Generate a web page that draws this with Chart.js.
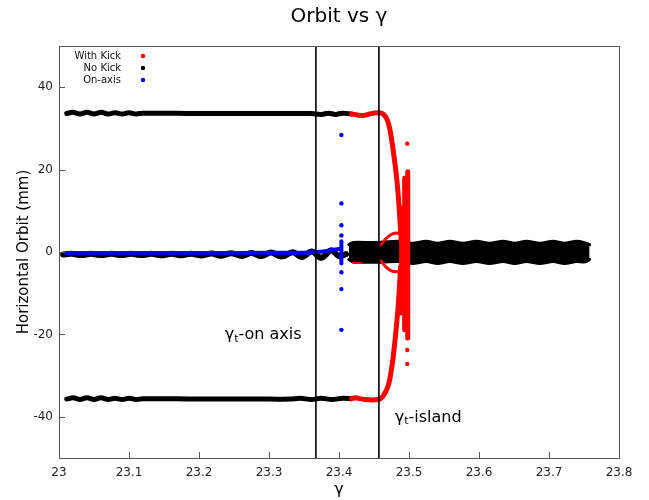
<!DOCTYPE html>
<html>
<head>
<meta charset="utf-8">
<script src="https://cdn.jsdelivr.net/npm/chart.js@4/dist/chart.umd.min.js"></script>
<style>
  html, body { margin: 0; padding: 0; background: #fff; }
  #wrap { width: 649px; height: 500px; }
</style>
</head>
<body>
<div id="wrap"><canvas id="chart" width="649" height="500"></canvas></div>
<script>
const gammaTicks = [23, 23.1, 23.2, 23.3, 23.4, 23.5, 23.6, 23.7, 23.8];
const orbitTicks = [-40, -20, 0, 20, 40];
const gammaT = [23.367, 23.457];
const legendNames = ['With Kick', 'No Kick', 'On-axis'];
const seriesColors = ['#ff0000', '#000000', '#0000ff'];

// No Kick
const noKickTop = [
  [23.011, 33.6], [23.02, 33.9], [23.03, 33.5], [23.04, 33.9], [23.05, 33.5], [23.06, 33.9],
  [23.07, 33.5], [23.08, 33.8], [23.09, 33.5], [23.10, 33.8], [23.11, 33.5], [23.12, 33.7],
  [23.20, 33.6], [23.30, 33.6], [23.36, 33.6], [23.375, 33.4], [23.385, 33.7], [23.395, 33.4],
  [23.405, 33.7], [23.418, 33.5],
];
const noKickBottom = [
  [23.011, -35.7], [23.02, -35.4], [23.03, -35.8], [23.04, -35.4], [23.05, -35.8], [23.06, -35.4],
  [23.07, -35.8], [23.08, -35.5], [23.09, -35.8], [23.10, -35.5], [23.11, -35.8], [23.12, -35.6],
  [23.20, -35.7], [23.30, -35.7], [23.33, -35.7], [23.345, -35.5], [23.36, -35.8], [23.375, -35.5],
  [23.39, -35.8], [23.405, -35.5], [23.418, -35.6],
];
const noKickCentre = [
  [23.006, -0.6], [23.018, -0.45], [23.032, -0.75], [23.046, -0.45], [23.060, -0.75], [23.075, -0.45],
  [23.089, -0.75], [23.103, -0.45], [23.118, -0.75], [23.132, -0.45], [23.146, -0.8], [23.161, -0.4],
  [23.175, -0.8], [23.189, -0.4], [23.204, -0.85], [23.218, -0.35], [23.232, -0.9], [23.246, -0.3],
  [23.261, -0.95], [23.275, -0.25], [23.289, -1.0], [23.303, -0.15], [23.318, -1.1], [23.334, -0.05],
  [23.347, -1.25], [23.361, 0.1], [23.375, -1.4], [23.389, 0.4], [23.400, -1.0], [23.41, -0.5],
];
const noKickBandTop = [
  [23.414, 1.8], [23.42, 2.3], [23.45, 2.3], [23.4867, 2.6], [23.505, 2.1], [23.5247, 2.6],
  [23.541, 2.1], [23.5581, 2.6], [23.577, 2.1], [23.5963, 2.6], [23.615, 2.1], [23.6344, 2.6],
  [23.651, 2.1], [23.6677, 2.6], [23.687, 2.1], [23.7058, 2.6], [23.722, 2.1], [23.7391, 2.6],
  [23.752, 2.2], [23.758, 1.8],
];
const noKickBandBottom = [
  [23.414, -1.8], [23.42, -2.4], [23.45, -2.5], [23.4867, -2.3], [23.505, -2.8], [23.5247, -2.3],
  [23.541, -2.8], [23.5581, -2.3], [23.577, -2.8], [23.5963, -2.3], [23.615, -2.8], [23.6344, -2.3],
  [23.651, -2.8], [23.6677, -2.3], [23.687, -2.8], [23.7058, -2.3], [23.722, -2.8], [23.7391, -2.3],
  [23.752, -2.4], [23.758, -1.8],
];

// With Kick
const kickUpper = [
  [23.418, 33.5], [23.4224, 33.4], [23.434, 33.1], [23.4486, 33.7], [23.4606, 33.7], [23.4677, 32.5],
  [23.4724, 30.0], [23.4763, 26.0], [23.4796, 21.9], [23.4829, 17.1], [23.4857, 11.4], [23.4877, 5.8],
  [23.489, 2.5],
];
const kickLower = [
  [23.418, -35.6], [23.4224, -35.4], [23.4367, -35.8], [23.4557, -35.8], [23.4629, -35.0], [23.47, -32.6],
  [23.4749, -28.6], [23.4786, -23.7], [23.482, -18.1], [23.4849, -12.4], [23.4867, -7.5], [23.4881, -3.5],
];
const kickLoopUpper = [[23.460, 1.8], [23.467, 3.2], [23.474, 4.2], [23.482, 4.6], [23.49, 4.3]];
const kickLoopLower = [[23.460, -2.2], [23.467, -3.6], [23.474, -4.5], [23.482, -4.8], [23.49, -4.6]];
const kickColumnA = [[23.4895, 10.6], [23.4895, -14.8]];
const kickColumnB = [[23.4938, 17.9], [23.4938, -18.9]];
const kickColumnC = [[23.4982, 19.5], [23.4982, -20.9]];
const kickSpill = [[23.42, -2.6], [23.433, -2.7]];
const kickStray = [[23.4975, 26.3], [23.4975, -23.8], [23.4975, -27.2]];

// On-axis
const onAxisLine = [
  [23.01, -0.25], [23.10, -0.25], [23.20, -0.25], [23.30, -0.2], [23.36, -0.1], [23.38, 0.2], [23.403, 0.8],
];
const onAxisColumn = [[23.4034, 2.6], [23.4034, -2.8]];
const onAxisStray = [
  [23.4034, 28.4], [23.4034, 11.8], [23.4034, 6.5], [23.4034, 4.0], [23.4034, -4.9],
  [23.4034, -9.0], [23.4034, -18.9],
];

const xy = arr => arr.map(([x, y]) => ({ x, y }));

function curve(data, color, width, order, extra) {
  return Object.assign({
    data: xy(data),
    showLine: true,
    borderColor: color,
    backgroundColor: color,
    borderWidth: width,
    pointRadius: 0,
    tension: 0.35,
    borderCapStyle: 'round',
    borderJoinStyle: 'round',
    fill: false,
    order,
  }, extra);
}

function dots(data, color, r, order) {
  return {
    data: xy(data),
    showLine: false,
    backgroundColor: color,
    borderColor: color,
    borderWidth: 0,
    pointRadius: r,
    order,
  };
}

const [red, black, blue] = seriesColors;

const datasets = [
  curve(noKickTop, black, 5, 3),
  curve(noKickBottom, black, 5, 3),
  curve(noKickCentre, black, 6, 3),
  curve(noKickBandTop, black, 3, 3, { fill: '+1', tension: 0.3 }),
  curve(noKickBandBottom, black, 3, 3, { tension: 0.3 }),
  curve(kickUpper, red, 5, 2),
  curve(kickLower, red, 5, 2),
  curve(kickLoopUpper, red, 3, 2),
  curve(kickLoopLower, red, 3, 2),
  curve(kickColumnA, red, 5, 2),
  curve(kickColumnB, red, 5, 2),
  curve(kickColumnC, red, 5, 2),
  curve(kickSpill, red, 2, 2),
  dots(kickStray, red, 2.2, 2),
  curve(onAxisLine, blue, 4, 1),
  curve(onAxisColumn, blue, 4, 1),
  dots(onAxisStray, blue, 2.2, 1),
];
gammaT.forEach(g => datasets.push(curve([[g, -50], [g, 50]], black, 1.6, 0, { tension: 0, borderCapStyle: 'butt' })));

const FONT = '"DejaVu Sans", sans-serif';

function gammaLabel(ctx, x, y, rest) {
  ctx.textAlign = 'left';
  ctx.textBaseline = 'middle';
  ctx.font = '16px ' + FONT;
  ctx.fillText('γ', x, y);
  let w = ctx.measureText('γ').width;
  ctx.font = '11px ' + FONT;
  ctx.fillText('t', x + w, y + 4);
  w += ctx.measureText('t').width;
  ctx.font = '16px ' + FONT;
  ctx.fillText(rest, x + w, y);
}

const decorations = {
  id: 'decorations',
  afterDraw(chart) {
    const { ctx, chartArea: a, scales: { x, y } } = chart;
    ctx.save();
    // frame and inward ticks, gnuplot style
    ctx.strokeStyle = '#555';
    ctx.lineWidth = 1;
    ctx.strokeRect(a.left + 0.5, a.top + 0.5, a.right - a.left, a.bottom - a.top);
    ctx.beginPath();
    gammaTicks.forEach(v => {
      const px = Math.round(x.getPixelForValue(v)) + 0.5;
      ctx.moveTo(px, a.bottom);
      ctx.lineTo(px, a.bottom - 6);
    });
    orbitTicks.forEach(v => {
      const py = Math.round(y.getPixelForValue(v)) + 0.5;
      ctx.moveTo(a.left, py);
      ctx.lineTo(a.left + 6, py);
    });
    ctx.stroke();

    // title
    ctx.fillStyle = '#000';
    ctx.font = '20px ' + FONT;
    ctx.textAlign = 'center';
    ctx.textBaseline = 'middle';
    ctx.fillText('Orbit vs γ', (a.left + a.right) / 2, 17);

    // legend
    ctx.font = '10px ' + FONT;
    legendNames.forEach((name, i) => {
      const ly = a.top + 10 + 12 * i;
      ctx.fillStyle = '#111';
      ctx.textAlign = 'right';
      ctx.fillText(name, a.left + 62, ly);
      ctx.fillStyle = seriesColors[i];
      ctx.beginPath();
      ctx.arc(a.left + 84, ly, 2.2, 0, Math.PI * 2);
      ctx.fill();
    });

    // transition gamma labels
    ctx.fillStyle = '#000';
    gammaLabel(ctx, x.getPixelForValue(23.2367), y.getPixelForValue(-20.1), '-on axis');
    gammaLabel(ctx, x.getPixelForValue(23.4796), y.getPixelForValue(-40.2), '-island');
    ctx.restore();
  },
};

new Chart(document.getElementById('chart'), {
  type: 'scatter',
  data: { datasets },
  options: {
    responsive: false,
    animation: false,
    layout: { padding: { top: 46, right: 30, left: 0, bottom: 0 } },
    plugins: {
      legend: { display: false },
      tooltip: { enabled: false },
      title: { display: false },
    },
    scales: {
      x: {
        type: 'linear',
        min: 23,
        max: 23.8,
        afterBuildTicks: s => { s.ticks = gammaTicks.map(value => ({ value })); },
        afterFit: s => { s.height = 42; },
        grid: { display: false, drawTicks: false },
        border: { display: false },
        ticks: {
          padding: 8,
          color: '#222',
          font: { family: FONT, size: 12 },
          callback: v => String(Number(v.toFixed(1))),
        },
        title: {
          display: true,
          text: 'γ',
          color: '#000',
          font: { family: FONT, size: 16 },
          padding: { top: 0, bottom: 1 },
        },
      },
      y: {
        type: 'linear',
        min: -50,
        max: 50,
        afterBuildTicks: s => { s.ticks = orbitTicks.map(value => ({ value })); },
        afterFit: s => { s.width = 59; },
        grid: { display: false, drawTicks: false },
        border: { display: false },
        ticks: {
          padding: 6,
          color: '#222',
          font: { family: FONT, size: 12 },
        },
        title: {
          display: true,
          text: 'Horizontal Orbit (mm)',
          color: '#000',
          font: { family: FONT, size: 15 },
          padding: { top: 15, bottom: 0 },
        },
      },
    },
  },
  plugins: [decorations],
});
</script>
</body>
</html>
